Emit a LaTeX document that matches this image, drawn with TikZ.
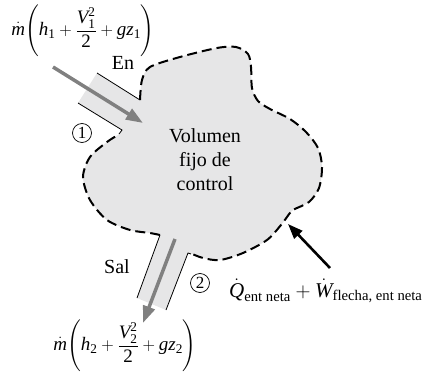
\documentclass[tikz,border=0pt]{standalone}
\usepackage{amsmath}
\usepackage{fontspec}
\setmainfont{Liberation Serif}
\newfontfamily\tnr{Liberation Serif}
\usetikzlibrary{arrows.meta}
\definecolor{cvfill}{RGB}{230,230,231}
\definecolor{flowgray}{RGB}{128,128,128}
\newcommand{\iv}[1]{\text{\tnr\itshape #1}}
\newcommand{\rv}[1]{\text{\tnr\upshape #1}}
\begin{document}
\begin{tikzpicture}[x=1pt,y=-1pt,
  wall/.style={line width=0.8pt},
  cvline/.style={line width=2pt, dash pattern=on 10pt off 5pt},
  flow/.style={draw=flowgray, line width=3.5pt, -{Triangle[length=17pt,width=12pt]}},
  heat/.style={line width=2.6pt, -{Triangle[length=15pt,width=11pt]}},
  lbl/.style={font=\tnr\fontsize{20}{24}\selectfont, inner sep=0pt},
  eq/.style={font=\tnr\fontsize{19}{23}\selectfont, inner sep=0pt},
  num/.style={circle, draw, line width=0.7pt, inner sep=0pt, minimum size=19pt, font=\tnr\fontsize{17}{18}\selectfont}]
\useasboundingbox (0,0) rectangle (430,374);
% control volume fill
\fill[cvfill] (97,73) -- (140,100) -- plot[smooth] coordinates {(140,100) (142,80) (150,67) (180,57) (217,48) (236,47) (248,54) (251,67) (252,88) (258,101) (270,109) (290,119) (306,132) (318,148) (322,167) (319,188) (309,202) (293,210) (287,217) (281,225) (267,240) (243,253) (220,260) (203,258) (190,253)}
  -- (188,253) -- (166,310) -- (137,298) -- (160,235)
  -- plot[smooth] coordinates {(160,235) (150,233) (130,230) (107,220) (90,200) (83,177) (90,157) (107,142) (118,135)}
  -- (122,130) -- (78,103) -- cycle;
% dashed boundary
\draw[cvline] plot[smooth] coordinates {(140,100) (142,80) (150,67) (180,57) (217,48) (236,47) (248,54) (251,67) (252,88) (258,101) (270,109) (290,119) (306,132) (318,148) (322,167) (319,188) (309,202) (293,210) (287,217) (281,225) (267,240) (243,253) (220,260) (203,258) (190,253)};
\draw[cvline] plot[smooth] coordinates {(160,235) (150,233) (130,230) (107,220) (90,200) (83,177) (90,157) (107,142) (118,135)};
% pipe walls
\draw[wall] (97,73) -- (140,100);
\draw[wall] (78,103) -- (122,130) -- (119,134);
\draw[wall] (160,235) -- (137,298);
\draw[wall] (191,254) -- (188,253) -- (166,310);
% labels
\node[eq] (fin) at (83,31) {$\dot{\iv{m}}\Biggl(\iv{h}_{\rv{1}}+\dfrac{\iv{V}_{\rv{1}}^{\rv{2}}}{\rv{2}}+\iv{g}\iv{z}_{\rv{1}}\Biggr)$};
\node[eq] (fout) at (125,346) {$\dot{\iv{m}}\Biggl(\iv{h}_{\rv{2}}+\dfrac{\iv{V}_{\rv{2}}^{\rv{2}}}{\rv{2}}+\iv{g}\iv{z}_{\rv{2}}\Biggr)$};
\node[lbl] (en) at (123,63) {En};
\node[lbl] (sal) at (117,267) {Sal};
\node[num] (c1) at (82,133) {1};
\node[num] (c2) at (200,283) {2};
\node[lbl, align=center] (cv) at (205,160) {Volumen\\fijo de\\control};
\node[lbl, anchor=base west, font=\tnr\fontsize{21}{24}\selectfont] (qw) at (229,297) {$\dot{\iv{Q}}_{\rv{ent neta}}+\dot{\iv{W}}_{\rv{flecha, ent neta}}$};
% arrows
\coordinate (a1s) at (53,67);
\coordinate (a1e) at (143,123);
\coordinate (a2s) at (175,239);
\coordinate (a2e) at (143,323);
\coordinate (a3s) at (330,268);
\coordinate (a3e) at (288,224);
\draw[flow] (a1s) -- (a1e);
\draw[flow] (a2s) -- (a2e);
\draw[heat] (a3s) -- (a3e);
\end{tikzpicture}
\end{document}
